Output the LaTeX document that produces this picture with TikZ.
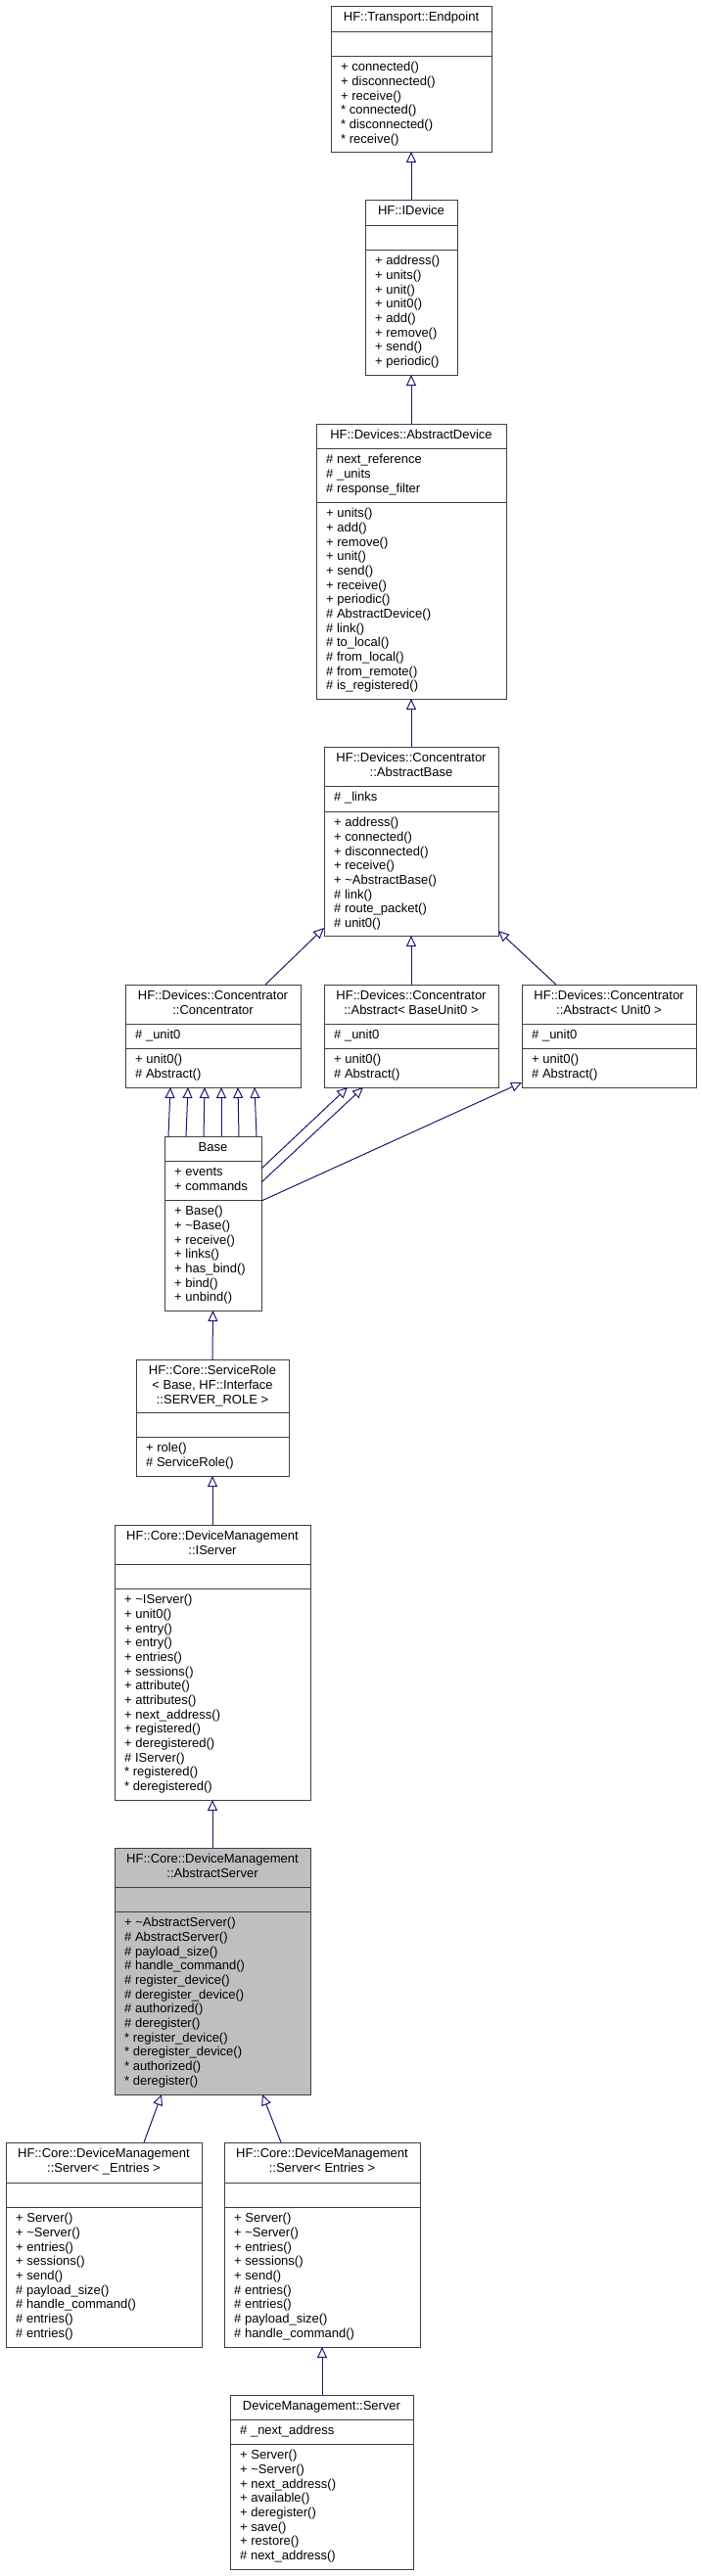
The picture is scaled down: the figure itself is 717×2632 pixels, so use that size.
\documentclass[tikz,border=0pt]{standalone}
\usepackage{fontspec}
\setmainfont{Liberation Sans}
\usetikzlibrary{arrows.meta,fit,calc}
\definecolor{boxline}{RGB}{64,64,64}
\definecolor{edgecol}{RGB}{25,25,112}
\definecolor{hl}{RGB}{191,191,191}
\newcommand\fs{\fontsize{13}{14.67}\selectfont}
\newcommand\umlbox[9]{%
  \node[clsbox, fill=#8, fit={(#2,#3)(#4,#7)}] (#1) {};
  \draw[sepline] (#2,#5) -- (#4,#5);
  \draw[sepline] (#2,#6) -- (#4,#6);
  \node[ttext] (#1-t) at ({(#2+#4)/2},{#3+5.4}) {\strut #9};
}
\newcommand\umltext[4]{%
  \node[mtext] (#1) at ({#2+10},{#3+5.4}) {\strut #4};
}
\begin{document}
\begin{tikzpicture}[x=1pt,y=-1pt,
  clsbox/.style={draw=boxline, line width=1pt, inner sep=0pt, outer sep=0pt},
  sepline/.style={draw=boxline, line width=1pt},
  ttext/.style={anchor=north, inner sep=0pt, align=center, font=\fs},
  mtext/.style={anchor=north west, inner sep=0pt, align=left, font=\fs},
  inh/.style={draw=edgecol, line width=1pt, -{Triangle[open, length=11pt, width=10pt, fill=white]}},
]
\fill[white] (0,0) rectangle (717,2632);
\useasboundingbox (0,0) rectangle (717,2632);

% HF::Transport::Endpoint
\umlbox{ep}{338}{6}{502}{32}{57}{155}{white}{HF::Transport::Endpoint}
\umltext{ep-m}{338}{57}{+ connected()\\+ disconnected()\\+ receive()\\* connected()\\* disconnected()\\* receive()}

% HF::IDevice
\umlbox{idev}{373}{204}{467}{230}{255}{383}{white}{HF::IDevice}
\umltext{idev-m}{373}{255}{+ address()\\+ units()\\+ unit()\\+ unit0()\\+ add()\\+ remove()\\+ send()\\+ periodic()}

% HF::Devices::AbstractDevice
\umlbox{adev}{323}{433}{517}{458}{513}{714}{white}{HF::Devices::AbstractDevice}
\umltext{adev-a}{323}{458}{\# next\_reference\\\# \_units\\\# response\_filter}
\umltext{adev-m}{323}{513}{+ units()\\+ add()\\+ remove()\\+ unit()\\+ send()\\+ receive()\\+ periodic()\\\# AbstractDevice()\\\# link()\\\# to\_local()\\\# from\_local()\\\# from\_remote()\\\# is\_registered()}

% AbstractBase
\umlbox{abase}{331}{763}{509}{803}{829}{956}{white}{HF::Devices::Concentrator\\::AbstractBase}
\umltext{abase-a}{331}{803}{\# \_links}
\umltext{abase-m}{331}{829}{+ address()\\+ connected()\\+ disconnected()\\+ receive()\\+ \textasciitilde AbstractBase()\\\# link()\\\# route\_packet()\\\# unit0()}

% Concentrator
\umlbox{conc}{128}{1006}{307}{1046}{1071}{1111}{white}{HF::Devices::Concentrator\\::Concentrator}
\umltext{conc-a}{128}{1046}{\# \_unit0}
\umltext{conc-m}{128}{1071}{+ unit0()\\\# Abstract()}

% Abstract< BaseUnit0 >
\umlbox{abu}{331}{1006}{509}{1046}{1071}{1111}{white}{HF::Devices::Concentrator\\::Abstract< BaseUnit0 >}
\umltext{abu-a}{331}{1046}{\# \_unit0}
\umltext{abu-m}{331}{1071}{+ unit0()\\\# Abstract()}

% Abstract< Unit0 >
\umlbox{au}{533}{1006}{711}{1046}{1071}{1111}{white}{HF::Devices::Concentrator\\::Abstract< Unit0 >}
\umltext{au-a}{533}{1046}{\# \_unit0}
\umltext{au-m}{533}{1071}{+ unit0()\\\# Abstract()}

% Base
\umlbox{base}{168}{1161}{267}{1186}{1226}{1339}{white}{Base}
\umltext{base-a}{168}{1186}{+ events\\+ commands}
\umltext{base-m}{168}{1226}{+ Base()\\+ \textasciitilde Base()\\+ receive()\\+ links()\\+ has\_bind()\\+ bind()\\+ unbind()}

% ServiceRole
\umlbox{srole}{139}{1389}{295}{1443}{1468}{1508}{white}{HF::Core::ServiceRole\\< Base, HF::Interface\\::SERVER\_ROLE >}
\umltext{srole-m}{139}{1468}{+ role()\\\# ServiceRole()}

% IServer
\umlbox{isrv}{117}{1558}{317}{1598}{1623}{1839}{white}{HF::Core::DeviceManagement\\::IServer}
\umltext{isrv-m}{117}{1623}{+ \textasciitilde IServer()\\+ unit0()\\+ entry()\\+ entry()\\+ entries()\\+ sessions()\\+ attribute()\\+ attributes()\\+ next\_address()\\+ registered()\\+ deregistered()\\\# IServer()\\* registered()\\* deregistered()}

% AbstractServer
\umlbox{asrv}{117}{1888}{317}{1928}{1953}{2140}{hl}{HF::Core::DeviceManagement\\::AbstractServer}
\umltext{asrv-m}{117}{1953}{+ \textasciitilde AbstractServer()\\\# AbstractServer()\\\# payload\_size()\\\# handle\_command()\\\# register\_device()\\\# deregister\_device()\\\# authorized()\\\# deregister()\\* register\_device()\\* deregister\_device()\\* authorized()\\* deregister()}

% Server< _Entries >
\umlbox{srva}{6}{2189}{206}{2230}{2255}{2398}{white}{HF::Core::DeviceManagement\\::Server< \_Entries >}
\umltext{srva-m}{6}{2255}{+ Server()\\+ \textasciitilde Server()\\+ entries()\\+ sessions()\\+ send()\\\# payload\_size()\\\# handle\_command()\\\# entries()\\\# entries()}

% Server< Entries >
\umlbox{srvb}{229}{2189}{429}{2230}{2255}{2398}{white}{HF::Core::DeviceManagement\\::Server< Entries >}
\umltext{srvb-m}{229}{2255}{+ Server()\\+ \textasciitilde Server()\\+ entries()\\+ sessions()\\+ send()\\\# entries()\\\# entries()\\\# payload\_size()\\\# handle\_command()}

% DeviceManagement::Server
\umlbox{dms}{235}{2447}{422}{2472}{2497}{2625}{white}{DeviceManagement::Server}
\umltext{dms-a}{235}{2472}{\# \_next\_address}
\umltext{dms-m}{235}{2497}{+ Server()\\+ \textasciitilde Server()\\+ next\_address()\\+ available()\\+ deregister()\\+ save()\\+ restore()\\\# next\_address()}

% inheritance connectors
\draw[inh] (idev.north) -- (ep.south);
\draw[inh] (adev.north) -- (idev.south);
\draw[inh] (abase.north) -- (adev.south);
\draw[inh] (abu.north) -- (abase.south);

\coordinate (concTop) at ($(conc.north west)+(143,0)$);
\coordinate (abaseL) at ($(abase.south west)+(0,-8)$);
\draw[inh] (concTop) -- (abaseL);

\coordinate (auTop) at ($(au.north west)+(35,0)$);
\coordinate (abaseR) at ($(abase.south east)+(0,-5)$);
\draw[inh] (auTop) -- (abaseR);

\foreach \a/\b in {4/46,22/64,40/81,58/98,76/115,94/132}
  \draw[inh] ($(base.north west)+(\a,0)$) -- ($(conc.south west)+(\b,0)$);

\coordinate (baseR1) at ($(base.north east)+(0,33)$);
\coordinate (baseR2) at ($(base.north east)+(0,47)$);
\coordinate (baseR3) at ($(base.north east)+(0,66)$);
\coordinate (abuB1) at ($(abu.south west)+(24,0)$);
\coordinate (abuB2) at ($(abu.south west)+(40,0)$);
\coordinate (auL) at ($(au.south west)+(0,-5)$);
\draw[inh] (baseR1) -- (abuB1);
\draw[inh] (baseR2) -- (abuB2);
\draw[inh] (baseR3) -- (auL);

\draw[inh] (srole.north) -- (base.south);
\draw[inh] (isrv.north) -- (srole.south);
\draw[inh] (asrv.north) -- (isrv.south);

\coordinate (srvaTop) at ($(srva.north west)+(141,0)$);
\coordinate (asrvB1) at ($(asrv.south west)+(48,0)$);
\draw[inh] (srvaTop) -- (asrvB1);
\coordinate (srvbTop) at ($(srvb.north west)+(58,0)$);
\coordinate (asrvB2) at ($(asrv.south west)+(151,0)$);
\draw[inh] (srvbTop) -- (asrvB2);

\draw[inh] (dms.north -| srvb.south) -- (srvb.south);
\end{tikzpicture}
\end{document}
